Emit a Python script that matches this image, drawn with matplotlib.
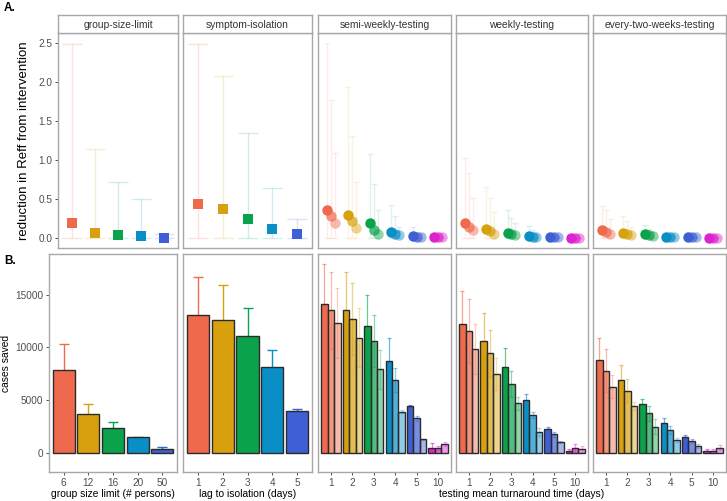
import matplotlib
matplotlib.use("Agg")
import matplotlib.pyplot as plt
import numpy as np
from matplotlib.colors import to_rgba

plt.rcParams['font.family'] = ['Liberation Sans', 'DejaVu Sans']

# ---------------- data ----------------
group_labels = ['6', '12', '16', '20', '50']
iso_labels = ['1', '2', '3', '4', '5']
tat_labels = ['1', '2', '3', '4', '5', '10']
facet_titles = ['group-size-limit', 'symptom-isolation', 'semi-weekly-testing',
                'weekly-testing', 'every-two-weeks-testing']

# Panel A: reduction in Reff
gs_reff = [0.20, 0.07, 0.04, 0.03, 0.00]
gs_reff_hi = [2.49, 1.14, 0.72, 0.50, 0.05]
iso_reff = [0.44, 0.37, 0.25, 0.12, 0.05]
iso_reff_hi = [2.49, 2.07, 1.35, 0.64, 0.24]

semi_reff = [[0.36, 0.28, 0.20], [0.30, 0.22, 0.13], [0.19, 0.11, 0.06],
             [0.08, 0.06, 0.04], [0.03, 0.02, 0.02], [0.01, 0.01, 0.01]]
semi_reff_hi = [[2.50, 1.77, 1.09], [1.93, 1.31, 0.72], [1.08, 0.70, 0.36],
                [0.43, 0.28, 0.15], [0.14, 0.08, 0.05], [0.03, 0.03, 0.02]]
weekly_reff = [[0.19, 0.14, 0.10], [0.12, 0.09, 0.06], [0.07, 0.05, 0.04],
               [0.03, 0.02, 0.02], [0.01, 0.01, 0.01], [0.00, 0.00, 0.00]]
weekly_reff_hi = [[1.03, 0.83, 0.52], [0.66, 0.52, 0.33], [0.36, 0.26, 0.20],
                  [0.16, 0.10, 0.06], [0.05, 0.03, 0.02], [0.01, 0.01, 0.01]]
biweekly_reff = [[0.10, 0.08, 0.06], [0.07, 0.06, 0.04], [0.05, 0.04, 0.03],
                 [0.02, 0.02, 0.02], [0.01, 0.01, 0.01], [0.00, 0.00, 0.00]]
biweekly_reff_hi = [[0.41, 0.36, 0.24], [0.28, 0.22, 0.15], [0.17, 0.12, 0.08],
                    [0.05, 0.04, 0.03], [0.02, 0.02, 0.01], [0.01, 0.01, 0.01]]

# Panel B: cases saved
gs_cases = [7860, 3650, 2380, 1460, 380]
gs_cases_hi = [10300, 4600, 2890, 1520, 570]
iso_cases = [13120, 12580, 11090, 8180, 3990]
iso_cases_hi = [16670, 15910, 13780, 9730, 4180]

semi_cases = [[14100, 13530, 12330], [13530, 12740, 10930], [12040, 10620, 7930],
              [8690, 6910, 3900], [4470, 3270, 1270], [480, 430, 800]]
semi_cases_hi = [[17900, 17200, 15630], [17200, 16160, 13730], [14990, 13090, 9760],
                 [10930, 8020, 4060], [4500, 3520, 1300], [890, 600, 1000]]
weekly_cases = [[12200, 11570, 9860], [10620, 9450, 7480], [8120, 6530, 4700],
                [5010, 3580, 1940], [2220, 1750, 1050], [160, 420, 320]]
weekly_cases_hi = [[15370, 14580, 12200], [13310, 11660, 8970], [9920, 7770, 5320],
                   [5550, 3900, 2300], [2450, 2000, 1150], [350, 830, 600]]
biweekly_cases = [[8810, 7800, 6270], [6940, 5890, 4440], [4630, 3740, 2470],
                  [2820, 2160, 1210], [1490, 1110, 610], [190, 130, 480]]
biweekly_cases_hi = [[10870, 9830, 7390], [8340, 6980, 4790], [5070, 4470, 3200],
                     [3330, 2500, 1400], [1700, 1300, 800], [380, 300, 700]]

colors = ['#EF6A4C', '#D7A00C', '#0AA24A', '#0A8EC6', '#3F5FD4', '#DD22CF']
sub_alpha = [1.0, 0.7, 0.45]

# ---------------- layout ----------------
W, H = 727, 501
fig = plt.figure(figsize=(W / 100, H / 100), dpi=100)

def px_axes(x0, y0, x1, y1):
    return fig.add_axes([x0 / W, 1 - y1 / H, (x1 - x0) / W, (y1 - y0) / H])

A_x = [(58, 178), (183, 312), (318, 451), (456, 588), (593, 726)]
B_x = [(49, 177), (183, 312), (318, 451), (456, 588), (593, 726)]
A_y = (33, 248)
B_y = (254, 472)
strip_y = (15, 33)

border = '#A8A8A8'
tickc = '#4D4D4D'
TICK_FS = 7.2
TITLE_FS = 7.4

def style(ax, show_y, show_x):
    for s in ax.spines.values():
        s.set_color(border)
        s.set_linewidth(1.0)
    ax.tick_params(axis='both', colors='#333333', labelcolor=tickc, labelsize=TICK_FS,
                   length=2.5, width=0.6, pad=1.5)
    if not show_y:
        ax.tick_params(axis='y', left=False, labelleft=False)
    if not show_x:
        ax.tick_params(axis='x', bottom=False, labelbottom=False)

# ---------- Panel A ----------
simple_reff = [(gs_reff, gs_reff_hi), (iso_reff, iso_reff_hi)]
test_reff = [(semi_reff, semi_reff_hi), (weekly_reff, weekly_reff_hi),
             (biweekly_reff, biweekly_reff_hi)]
for i in range(5):
    ax = px_axes(A_x[i][0], A_y[0], A_x[i][1], A_y[1])
    if i < 2:
        vals, his = simple_reff[i]
        xs = np.arange(1, len(vals) + 1)
        for j in range(len(vals)):
            ax.errorbar(xs[j], 0, yerr=[[0], [his[j]]], fmt='none',
                        ecolor=to_rgba(colors[j], 0.18), elinewidth=1.0,
                        capsize=7, capthick=1.0)
            ax.plot(xs[j], vals[j], 's', color=colors[j], markersize=7,
                    markeredgewidth=0)
        ax.set_xlim(0.4, len(vals) + 0.6)
    else:
        vals, his = test_reff[i - 2]
        offs = [-0.18, 0.0, 0.18]
        for j in range(6):
            for k in range(3):
                xx = j + 1 + offs[k]
                ax.errorbar(xx, 0, yerr=[[0], [his[j][k]]], fmt='none',
                            ecolor=to_rgba(colors[j], 0.12), elinewidth=1.0,
                            capsize=2.5, capthick=1.0)
            for k in range(3):
                xx = j + 1 + offs[k]
                ax.plot(xx, vals[j][k], 'o', color=colors[j], alpha=sub_alpha[k],
                        markersize=7.5, markeredgewidth=0)
        ax.set_xlim(0.4, 6.6)
    ax.set_ylim(-0.125, 2.625)
    ax.set_yticks([0, 0.5, 1.0, 1.5, 2.0, 2.5])
    ax.set_yticklabels(['0.0', '0.5', '1.0', '1.5', '2.0', '2.5'])
    style(ax, i == 0, False)
    if i == 0:
        ax.set_ylabel('reduction in Reff from intervention', fontsize=9.5, labelpad=6)
    # strip
    sax = px_axes(A_x[i][0], strip_y[0], A_x[i][1], strip_y[1])
    sax.set_xticks([]); sax.set_yticks([])
    for s in sax.spines.values():
        s.set_color(border); s.set_linewidth(1.0)
    sax.set_facecolor('white')
    sax.text(0.5, 0.45, facet_titles[i], ha='center', va='center',
             fontsize=TITLE_FS, color='#333333', transform=sax.transAxes)

# ---------- Panel B ----------
simple_cases = [(gs_cases, gs_cases_hi, group_labels), (iso_cases, iso_cases_hi, iso_labels)]
test_cases = [(semi_cases, semi_cases_hi), (weekly_cases, weekly_cases_hi),
              (biweekly_cases, biweekly_cases_hi)]
edge = '#2B2B2B'
for i in range(5):
    ax = px_axes(B_x[i][0], B_y[0], B_x[i][1], B_y[1])
    if i < 2:
        vals, his, labs = simple_cases[i]
        xs = np.arange(1, len(vals) + 1)
        for j in range(len(vals)):
            err = his[j] - vals[j]
            ax.errorbar(xs[j], vals[j], yerr=err, fmt='none', ecolor=colors[j],
                        elinewidth=1.0, capsize=3.5, capthick=1.0, zorder=1)
        ax.bar(xs, vals, width=0.9, color=colors[:len(vals)], edgecolor=edge,
               linewidth=1.0, zorder=2)
        ax.set_xlim(0.4, len(vals) + 0.6)
        ax.set_xticks(xs)
        ax.set_xticklabels(labs)
    else:
        vals, his = test_cases[i - 2]
        offs = [-0.3, 0.0, 0.3]
        for j in range(6):
            for k in range(3):
                xx = j + 1 + offs[k]
                err = his[j][k] - vals[j][k]
                ax.errorbar(xx, vals[j][k], yerr=err, fmt='none',
                            ecolor=to_rgba(colors[j], 0.5 * sub_alpha[k] + 0.1),
                            elinewidth=0.9, capsize=1.2, capthick=0.9, zorder=1)
            for k in range(3):
                xx = j + 1 + offs[k]
                ax.bar(xx, vals[j][k], width=0.3,
                       color=to_rgba(colors[j], sub_alpha[k]),
                       edgecolor=edge, linewidth=1.0, zorder=2)
        ax.set_xlim(0.4, 6.6)
        ax.set_xticks(np.arange(1, 7))
        ax.set_xticklabels(tat_labels)
    ax.set_ylim(-1840, 18890)
    ax.set_yticks([0, 5000, 10000, 15000])
    style(ax, i == 0, True)
    if i == 0:
        ax.set_ylabel('cases saved', fontsize=TITLE_FS, labelpad=3)
        ax.set_xlabel('group size limit (# persons)', fontsize=TITLE_FS, labelpad=1)
    elif i == 1:
        ax.set_xlabel('lag to isolation (days)', fontsize=TITLE_FS, labelpad=1)

fig.text(522 / W, 1 - 494 / H, 'testing mean turnaround time (days)', ha='center',
         va='center', fontsize=TITLE_FS)
fig.text(4 / W, 1 - 8 / H, 'A.', fontsize=8.5, fontweight='bold', va='center')
fig.text(4 / W, 1 - 261 / H, 'B.', fontsize=8.5, fontweight='bold', va='center')

fig.savefig('out.png', dpi=100, facecolor='white')
